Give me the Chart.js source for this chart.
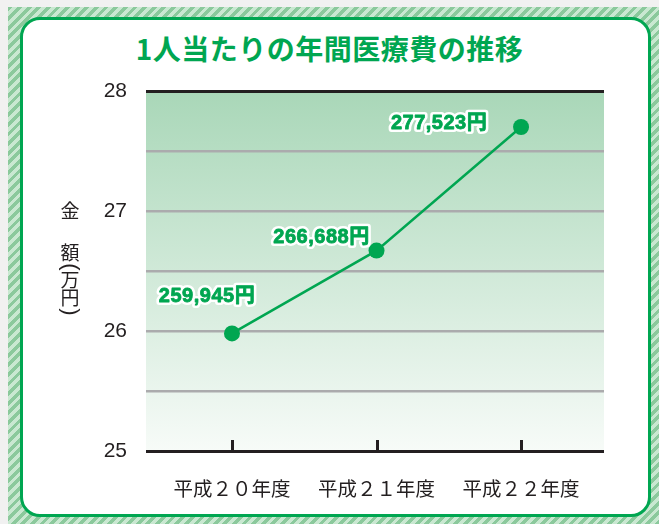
<!DOCTYPE html>
<html lang="ja">
  <head>
    <meta charset="UTF-8" />
    <title>1人当たりの年間医療費の推移</title>
    <script src="https://cdn.jsdelivr.net/npm/chart.js@4.4.1/dist/chart.umd.min.js"></script>
    <style>
      html, body { margin: 0; padding: 0; }
      body { width: 659px; height: 524px; position: relative; overflow: hidden; background: #f1f1f1; }
      /* hatched frame */
      #hatch {
        position: absolute; left: 8px; top: 7px; right: 0; bottom: 0;
        background: repeating-linear-gradient(135deg, #8bc99c 0px, #8bc99c 3.4px, #c9e8d1 3.4px, #c9e8d1 6.8px);
      }
      #panel {
        position: absolute; left: 20px; top: 17px; width: 625px; height: 494px;
        background: #fff; border: 3px solid #00a651; border-radius: 20px;
      }
      #title {
        position: absolute; left: 0; top: 30px; width: 659px; margin: 0;
        text-align: center; font: bold 28px "Noto Sans CJK JP", sans-serif;
        line-height: 36px; color: #00a651; letter-spacing: 0.5px;
      }
      #chart { position: absolute; left: 0; top: 0; }
    </style>
  </head>
  <body>
    <div id="hatch"></div>
    <div id="panel"></div>
    <h1 id="title">1人当たりの年間医療費の推移</h1>
    <canvas id="chart" width="659" height="524"></canvas>

    <script>
      // data (万円)
      var categories = ['平成２０年度', '平成２１年度', '平成２２年度'];
      var values = [25.98, 26.67, 27.70];
      var valueLabels = ['259,945円', '266,688円', '277,523円'];
      var yTicks = [25, 26, 27, 28];
      var yTitle = ['金', '額', '(', '万', '円', ')'];

      var GREEN = '#00a651';
      var INK = '#231f20';

      // gradient behind the plot
      var plotBg = {
        id: 'plotBg',
        beforeDraw: function (chart) {
          var a = chart.chartArea, ctx = chart.ctx;
          var g = ctx.createLinearGradient(0, a.top, 0, a.bottom);
          g.addColorStop(0, '#a9d7b8');
          g.addColorStop(1, '#f7fbf8');
          ctx.save();
          ctx.fillStyle = g;
          ctx.fillRect(a.left, a.top, a.right - a.left, a.bottom - a.top);
          ctx.restore();
        }
      };

      // small ticks on the x axis, upright title of the y axis
      var axisExtras = {
        id: 'axisExtras',
        afterDraw: function (chart) {
          var ctx = chart.ctx, x = chart.scales.x, a = chart.chartArea;
          ctx.save();
          ctx.strokeStyle = INK;
          ctx.lineWidth = 3;
          x.ticks.forEach(function (t) {
            var px = Math.round(x.getPixelForValue(t.value)) + 0.5;
            ctx.beginPath();
            ctx.moveTo(px, a.bottom);
            ctx.lineTo(px, a.bottom - 11);
            ctx.stroke();
          });
          ctx.fillStyle = INK;
          ctx.textAlign = 'center';
          ctx.textBaseline = 'middle';
          var ys = [211, 253, 267, 280, 298, 312];
          yTitle.forEach(function (ch, i) {
            if (ch === '(' || ch === ')') {
              // parentheses turned for vertical writing
              ctx.save();
              ctx.font = '22px "Liberation Sans", sans-serif';
              ctx.translate(70, ys[i]);
              ctx.rotate(Math.PI / 2);
              ctx.fillText(ch, 0, 0);
              ctx.restore();
            } else {
              ctx.font = '19px "Noto Sans CJK JP", sans-serif';
              ctx.fillText(ch, 70, ys[i]);
            }
          });
          ctx.restore();
        }
      };

      // value labels with white outline
      var valueTags = {
        id: 'valueTags',
        afterDatasetsDraw: function (chart) {
          var ctx = chart.ctx, pts = chart.getDatasetMeta(0).data;
          var off = [[-25, -37], [-55, -13], [-82, -4]];
          ctx.save();
          ctx.font = 'bold 20px "Liberation Sans", "Noto Sans CJK JP", sans-serif';
          ctx.letterSpacing = '0.5px';
          ctx.textAlign = 'center';
          ctx.textBaseline = 'middle';
          ctx.lineJoin = 'round';
          pts.forEach(function (p, i) {
            var tx = p.x + off[i][0], ty = p.y + off[i][1];
            ctx.strokeStyle = '#fff';
            ctx.lineWidth = 6;
            ctx.strokeText(valueLabels[i], tx, ty);
            ctx.fillStyle = GREEN;
            ctx.strokeStyle = GREEN;
            ctx.lineWidth = 0.8;
            ctx.fillText(valueLabels[i], tx, ty);
            ctx.strokeText(valueLabels[i], tx, ty);
          });
          ctx.restore();
        }
      };

      var ctx = document.getElementById('chart');
      new Chart(ctx, {
        type: 'line',
        data: {
          datasets: [{
            data: values.map(function (v, i) { return { x: i, y: v }; }),
            borderColor: GREEN,
            borderWidth: 2.5,
            backgroundColor: GREEN,
            pointRadius: 8,
            pointBorderWidth: 0,
            pointHoverRadius: 8,
            tension: 0
          }]
        },
        options: {
          responsive: false,
          animation: false,
          events: [],
          layout: { padding: { left: 0, right: 55, top: 91, bottom: 0 } },
          plugins: { legend: { display: false }, tooltip: { enabled: false } },
          scales: {
            x: {
              type: 'linear',
              min: -0.595,
              max: 2.574,
              afterBuildTicks: function (s) { s.ticks = categories.map(function (c, i) { return { value: i }; }); },
              afterFit: function (s) { s.height = 73; },
              grid: { display: false },
              border: { display: false },
              ticks: {
                padding: 18,
                color: INK,
                font: { family: '"Noto Sans CJK JP", sans-serif', size: 19.5 },
                callback: function (v) { return categories[v]; }
              }
            },
            y: {
              min: 25,
              max: 28,
              afterFit: function (s) { s.width = 146; },
              border: { display: false },
              grid: {
                drawTicks: false,
                color: function (c) { return (c.tick.value === 25 || c.tick.value === 28) ? INK : '#ababad'; },
                lineWidth: function (c) { return (c.tick.value === 25 || c.tick.value === 28) ? 3 : 2.5; }
              },
              ticks: {
                stepSize: 0.5,
                padding: 19,
                color: INK,
                font: { family: '"Liberation Sans", sans-serif', size: 21 },
                callback: function (v) { return yTicks.indexOf(v) >= 0 ? v : ''; }
              }
            }
          }
        },
        plugins: [plotBg, axisExtras, valueTags]
      });
    </script>
  </body>
</html>
